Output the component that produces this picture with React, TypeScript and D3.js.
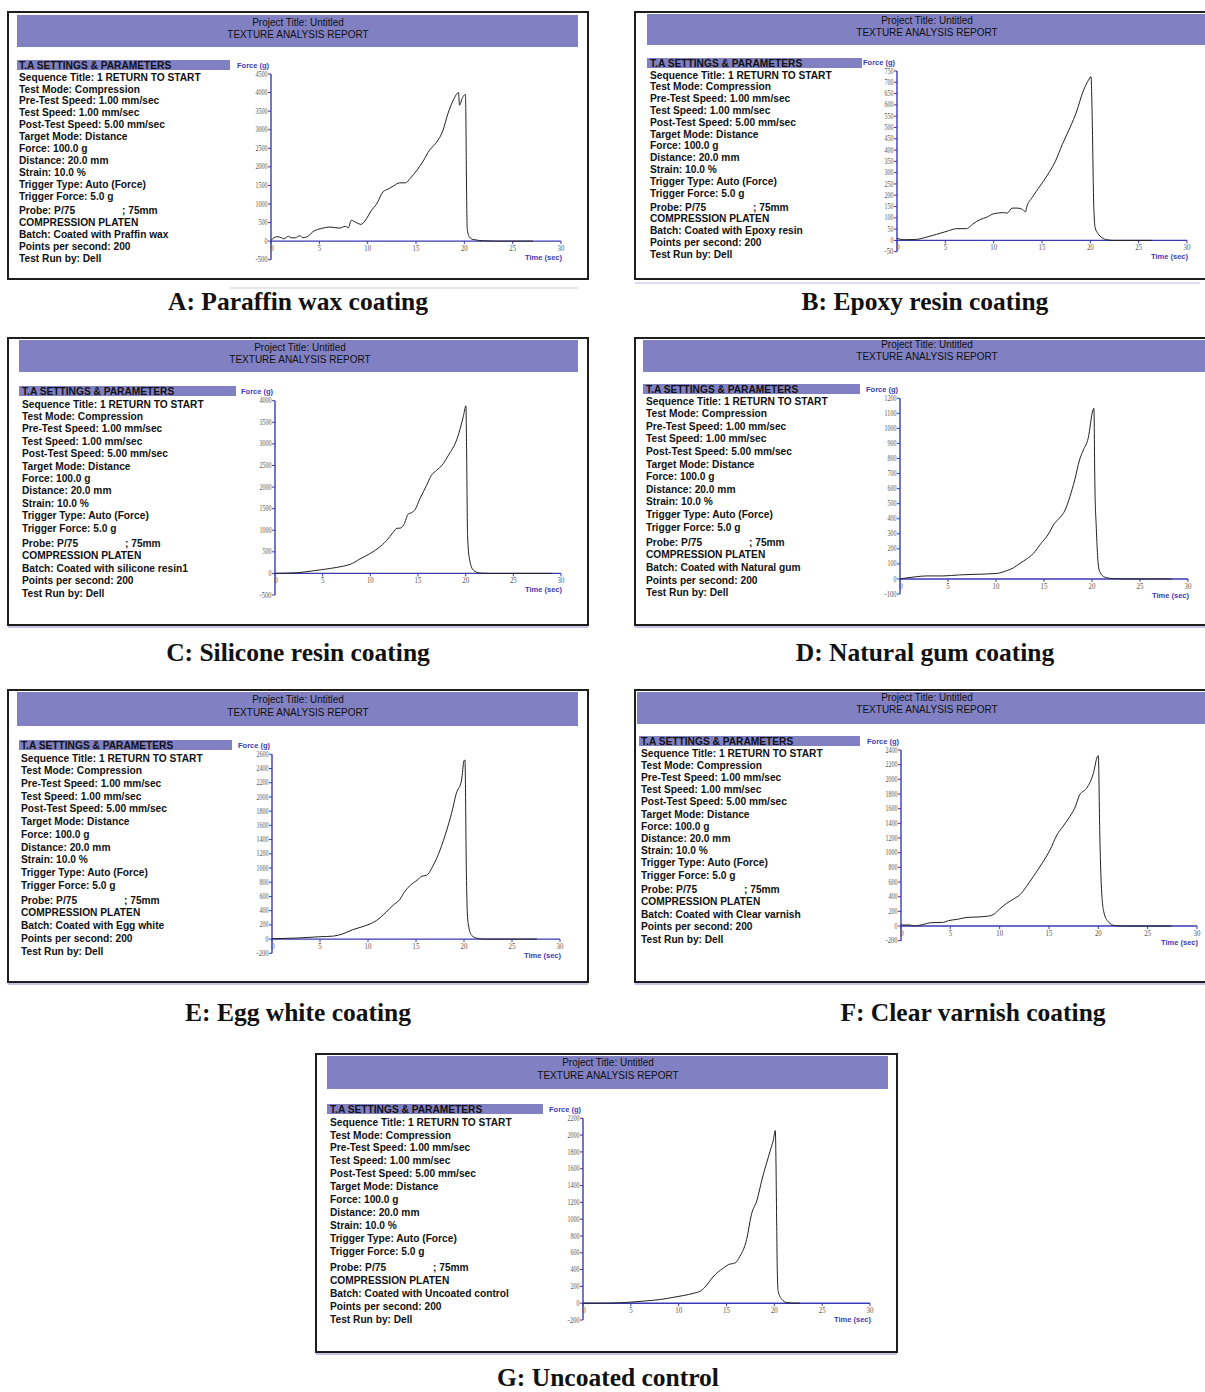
import React from 'react';
import * as d3 from 'd3';

// ---------- DATA ----------
const xTicks = [0, 5, 10, 15, 20, 25, 30];

const settingsLines = [
  'Sequence Title: 1 RETURN TO START',
  'Test Mode: Compression',
  'Pre-Test Speed: 1.00 mm/sec',
  'Test Speed: 1.00 mm/sec',
  'Post-Test Speed: 5.00 mm/sec',
  'Target Mode: Distance',
  'Force: 100.0 g',
  'Distance: 20.0 mm',
  'Strain: 10.0 %',
  'Trigger Type: Auto (Force)',
  'Trigger Force: 5.0 g',
];

const batchNames = [
  'Batch: Coated with Praffin wax',
  'Batch: Coated with Epoxy resin',
  'Batch: Coated with silicone resin1',
  'Batch: Coated with Natural gum',
  'Batch: Coated with Egg white',
  'Batch: Coated with Clear varnish',
  'Batch: Coated with Uncoated control',
];

const captions = [
  'A: Paraffin wax coating',
  'B: Epoxy resin coating',
  'C: Silicone resin coating',
  'D: Natural gum coating',
  'E: Egg white coating',
  'F: Clear varnish coating',
  'G: Uncoated control',
];

const yTicksA = [-500, 0, 500, 1000, 1500, 2000, 2500, 3000, 3500, 4000, 4500];
const yTicksB = [-50, 0, 50, 100, 150, 200, 250, 300, 350, 400, 450, 500, 550, 600, 650, 700, 750];
const yTicksC = [-500, 0, 500, 1000, 1500, 2000, 2500, 3000, 3500, 4000];
const yTicksD = [-100, 0, 100, 200, 300, 400, 500, 600, 700, 800, 900, 1000, 1100, 1200];
const yTicksE = [-200, 0, 200, 400, 600, 800, 1000, 1200, 1400, 1600, 1800, 2000, 2200, 2400, 2600];
const yTicksF = [-200, 0, 200, 400, 600, 800, 1000, 1200, 1400, 1600, 1800, 2000, 2200, 2400];
const yTicksG = [-200, 0, 200, 400, 600, 800, 1000, 1200, 1400, 1600, 1800, 2000, 2200];

// [time (sec), force (g)]
const paraffinWax: [number, number][] = [
  [0, 20], [0.6, 120], [1.1, 90], [1.3, 60], [1.8, 130], [2.1, 90], [2.5, 90], [3, 145], [3.3, 90],
  [3.7, 115], [4.5, 280], [5.2, 340], [6.1, 380], [7.1, 350], [7.7, 400], [8, 360], [8.3, 560],
  [8.9, 490], [9.3, 450], [9.7, 540], [10.4, 830], [10.9, 990], [11.6, 1330], [12.1, 1400],
  [12.7, 1490], [13.3, 1570], [13.9, 1570], [14.4, 1690], [15.1, 1910], [15.8, 2180], [16.4, 2450],
  [17.1, 2650], [17.8, 2990], [18.3, 3430], [18.9, 3820], [19.4, 4000], [19.5, 3660], [19.8, 3860],
  [20.1, 3950], [20.15, 3600], [20.2, 2200], [20.25, 970], [20.3, 340], [20.5, 120], [20.9, 45],
  [22, 10], [23.3, 0], [27.1, 0],
];
const epoxyResin: [number, number][] = [
  [0, 9], [0.7, 3], [1.9, 4], [3.1, 15], [4.1, 27], [5.2, 41], [6.2, 52], [7.2, 52], [7.4, 56],
  [7.8, 71], [8.6, 92], [9.3, 103], [10, 118], [11, 123], [11.4, 121], [11.9, 143], [12.4, 143],
  [12.9, 139], [13.3, 127], [13.4, 145], [13.97, 189], [14.8, 241], [15.5, 285], [16.4, 352],
  [17.1, 425], [17.9, 500], [18.6, 573], [19.2, 654], [19.8, 709], [20.07, 725], [20.2, 529],
  [20.35, 160], [20.5, 56], [20.8, 30], [21.2, 12], [21.7, 3], [22.4, 0], [26.4, 0],
];
const siliconeResin: [number, number][] = [
  [0, 0], [2.3, 15], [4, 60], [5.8, 115], [7.2, 170], [7.9, 210], [8.9, 333], [10, 465], [10.8, 580],
  [11.7, 760], [12.4, 953], [12.8, 1047], [13.1, 1047], [13.5, 1124], [14, 1380], [14.3, 1403],
  [14.7, 1480], [15.2, 1730], [15.9, 2040], [16.4, 2270], [16.96, 2390], [17.5, 2500], [18.2, 2740],
  [19.1, 3120], [19.75, 3630], [20.03, 3880], [20.1, 2810], [20.2, 876], [20.4, 333], [20.8, 78],
  [21.5, 8], [22.6, 0], [29.1, 0],
];
const naturalGum: [number, number][] = [
  [0, 0], [0.7, 7], [1.7, 15], [2.8, 20], [4.5, 20], [6.2, 27], [8, 31], [9.7, 35], [10.4, 40],
  [11.1, 55], [11.8, 73], [12.5, 104], [13.2, 133], [13.9, 170], [14.7, 237], [15.4, 292], [16.1, 370],
  [16.6, 403], [17.2, 458], [17.7, 547], [18.2, 657], [18.7, 790], [19.1, 857], [19.6, 934],
  [20.1, 1122], [20.2, 1133], [20.3, 624], [20.45, 336], [20.6, 137], [20.8, 49], [21.3, 13],
  [22.2, 2], [23.6, 0], [28.3, 0],
];
const eggWhite: [number, number][] = [
  [0, 5], [2.5, 14], [5, 33], [6.4, 42], [7.4, 75], [8.4, 132], [9.3, 169], [10, 202], [10.9, 263],
  [11.9, 381], [12.6, 475], [13.3, 555], [13.8, 663], [14.4, 757], [15.1, 827], [15.6, 884],
  [16.1, 898], [16.8, 1039], [17.5, 1251], [18.2, 1533], [18.7, 1768], [19.2, 2050], [19.75, 2238],
  [20.0, 2511], [20.1, 2520], [20.25, 921], [20.35, 357], [20.5, 169], [20.8, 52], [21.3, 14],
  [22, 0], [27.6, 0],
];
const clearVarnish: [number, number][] = [
  [0, 14], [0.9, 14], [1.3, 0], [2.3, 23], [3, 45], [4.3, 50], [4.8, 73], [5.7, 91], [6.7, 118],
  [7.7, 123], [8.9, 136], [9.4, 159], [10, 232], [10.7, 309], [11.4, 368], [12.1, 432], [12.7, 536],
  [13.4, 673], [14.3, 855], [15.1, 1036], [15.8, 1241], [16.4, 1355], [17.1, 1491], [17.6, 1605],
  [18.1, 1786], [18.8, 1877], [19.5, 2082], [19.9, 2309], [20.0, 2323], [20.15, 1241], [20.3, 559],
  [20.55, 195], [21, 59], [21.7, 5], [22.5, 0], [27.4, 0],
];
const uncoatedControl: [number, number][] = [
  [0, 0], [2.5, 0], [4.9, 12], [6.7, 28], [8.1, 44], [9.5, 71], [10.5, 91], [11.6, 119], [12.3, 146],
  [12.9, 210], [13.5, 301], [14.2, 380], [14.7, 419], [15.2, 459], [15.9, 479], [16.4, 558],
  [17.1, 756], [17.6, 1053], [18.2, 1231], [18.7, 1468], [19.6, 1824], [19.9, 1943], [20.1, 2054],
  [20.25, 914], [20.3, 439], [20.4, 142], [20.8, 44], [21.3, 8], [22.3, 0], [22.7, 0],
];

const seriesList = [paraffinWax, epoxyResin, siliconeResin, naturalGum, eggWhite, clearVarnish, uncoatedControl];
const yTickList = [yTicksA, yTicksB, yTicksC, yTicksD, yTicksE, yTicksF, yTicksG];

// ---------- LAYOUT ----------
type Layout = {
  box: [number, number, number, number];
  header: [number, number, number, number];
  titleX: number; titleY: [number, number];
  bar: [number, number, number];
  textX: number; firstY: number; step: number; probeY: number; probeStep: number;
  chart: { x0: number; x1: number; yTop: number; yBot: number };
  capX: number; capY: number;
  under: [number, number, number, string];
};

const layouts: Layout[] = [
  { box: [8, 12, 580, 267], header: [17, 15, 561, 32], titleX: 298, titleY: [22, 34], bar: [17, 60, 213],
    textX: 19, firstY: 77, step: 11.9, probeY: 210, probeStep: 12, chart: { x0: 271, x1: 561, yTop: 74, yBot: 259.7 },
    capX: 298, capY: 310, under: [230, 578, 288, '#d0d0d0'] },
  { box: [635, 12, 590, 267], header: [647, 14, 570, 31], titleX: 927, titleY: [20, 32], bar: [647, 58, 215],
    textX: 650, firstY: 75, step: 11.8, probeY: 207, probeStep: 11.8, chart: { x0: 897, x1: 1187, yTop: 71, yBot: 251.7 },
    capX: 925, capY: 310, under: [635, 1200, 283, '#b8b8e0'] },
  { box: [8, 338, 580, 287], header: [19, 340, 559, 32], titleX: 300, titleY: [347, 359], bar: [19, 386, 217],
    textX: 22, firstY: 404, step: 12.4, probeY: 543, probeStep: 12.5, chart: { x0: 275, x1: 561, yTop: 400.7, yBot: 595 },
    capX: 298, capY: 661, under: [8, 588, 627, '#8c8cc8'] },
  { box: [635, 338, 590, 287], header: [643, 340, 570, 32], titleX: 927, titleY: [344, 356], bar: [643, 384, 217],
    textX: 646, firstY: 401, step: 12.6, probeY: 542, probeStep: 12.7, chart: { x0: 900, x1: 1188, yTop: 398.3, yBot: 594 },
    capX: 925, capY: 661, under: [635, 1205, 627, '#8c8cc8'] },
  { box: [8, 690, 580, 292], header: [17, 692, 561, 34], titleX: 298, titleY: [699, 712], bar: [19, 740, 213],
    textX: 21, firstY: 758, step: 12.7, probeY: 900, probeStep: 12.75, chart: { x0: 272, x1: 560, yTop: 754.3, yBot: 953.3 },
    capX: 298, capY: 1021, under: [8, 588, 984, '#8c8cc8'] },
  { box: [635, 690, 590, 292], header: [637, 692, 570, 32], titleX: 927, titleY: [697, 709], bar: [639, 736, 221],
    textX: 641, firstY: 753, step: 12.2, probeY: 889, probeStep: 12.5, chart: { x0: 901, x1: 1197, yTop: 750, yBot: 940.7 },
    capX: 973, capY: 1021, under: [635, 1205, 984, '#8c8cc8'] },
  { box: [316, 1054, 581, 298], header: [327, 1056, 561, 33], titleX: 608, titleY: [1062, 1075], bar: [327, 1104, 216],
    textX: 330, firstY: 1122, step: 12.9, probeY: 1267, probeStep: 13, chart: { x0: 583, x1: 870, yTop: 1118.3, yBot: 1320 },
    capX: 608, capY: 1386, under: [316, 897, 1354, '#8c8cc8'] },
];

const LAV = '#8080c2';
const AX = '#3a3ab4';
const SANS = '"Liberation Sans", Arial, sans-serif';
const SERIF = '"Liberation Serif", "Times New Roman", serif';

function Panel({ idx }: { idx: number }) {
  const L = layouts[idx];
  const data = seriesList[idx];
  const ticks = yTickList[idx];
  const yMin = ticks[0];
  const yMax = ticks[ticks.length - 1];
  const x = d3.scaleLinear().domain([0, 30]).range([L.chart.x0, L.chart.x1]);
  const y = d3.scaleLinear().domain([yMin, yMax]).range([L.chart.yBot, L.chart.yTop]);
  const line = d3.line<[number, number]>().x(d => x(d[0])).y(d => y(d[1])).curve(d3.curveMonotoneX);
  const y0 = y(0);
  const probeLines = ['Probe: P/75', 'COMPRESSION PLATEN', batchNames[idx], 'Points per second: 200', 'Test Run by: Dell'];
  const fs = 10.2;
  const base = (c: number, size: number) => c + size * 0.36;
  return (
    <g>
      <rect x={L.box[0]} y={L.box[1]} width={L.box[2]} height={L.box[3]} fill="#fff" stroke="#1e1e1e" strokeWidth={2} />
      <line x1={L.under[0]} x2={L.under[1]} y1={L.under[2]} y2={L.under[2]} stroke={L.under[3]} strokeWidth={1.2} />
      <rect x={L.header[0]} y={L.header[1]} width={L.header[2]} height={L.header[3]} fill={LAV} />
      <text x={L.titleX} y={base(L.titleY[0], 10)} fontFamily={SANS} fontSize={10} textAnchor="middle" fill="#111">Project Title: Untitled</text>
      <text x={L.titleX} y={base(L.titleY[1], 10)} fontFamily={SANS} fontSize={10} textAnchor="middle" fill="#111">TEXTURE ANALYSIS REPORT</text>
      <rect x={L.bar[0]} y={L.bar[1]} width={L.bar[2]} height={10} fill={LAV} />
      <text x={L.textX} y={base(L.bar[1] + 5, fs)} fontFamily={SANS} fontSize={fs} fontWeight="bold" fill="#111">T.A SETTINGS &amp; PARAMETERS</text>
      {settingsLines.map((s, i) => (
        <text key={s} x={L.textX} y={base(L.firstY + i * L.step, fs)} fontFamily={SANS} fontSize={fs} fontWeight="bold" fill="#111">{s}</text>
      ))}
      {probeLines.map((s, i) => (
        <text key={s} x={L.textX} y={base(L.probeY + i * L.probeStep, fs)} fontFamily={SANS} fontSize={fs} fontWeight="bold" fill="#111">{s}</text>
      ))}
      <text x={L.textX + 103} y={base(L.probeY, fs)} fontFamily={SANS} fontSize={fs} fontWeight="bold" fill="#111">; 75mm</text>

      {/* axes */}
      <line x1={L.chart.x0} x2={L.chart.x0} y1={y(yMax)} y2={y(yMin)} stroke={AX} strokeWidth={1.4} />
      <line x1={L.chart.x0} x2={L.chart.x1} y1={y0} y2={y0} stroke={AX} strokeWidth={1.4} />
      {ticks.map(t => (
        <g key={'y' + t}>
          <line x1={L.chart.x0 - 3} x2={L.chart.x0} y1={y(t)} y2={y(t)} stroke={AX} strokeWidth={1} />
          <text x={L.chart.x0 - 3.5} y={y(t) + 2.6} fontFamily={SERIF} fontSize={7.5} textAnchor="end" fill="#555"
            textLength={String(t).length * 3} lengthAdjust="spacingAndGlyphs">{String(t)}</text>
        </g>
      ))}
      {xTicks.map(t => (
        <g key={'x' + t}>
          <line x1={x(t)} x2={x(t)} y1={y0} y2={y0 + 3} stroke={AX} strokeWidth={1} />
          <text x={x(t) + (t === 0 ? 1 : 0)} y={y0 + 10} fontFamily={SERIF} fontSize={8} textAnchor="middle" fill="#555"
            textLength={String(t).length * 3.4} lengthAdjust="spacingAndGlyphs">{String(t)}</text>
        </g>
      ))}
      <text x={L.chart.x0 - 34} y={L.chart.yTop - 9 + 2.6} fontFamily={SANS} fontSize={7.5} fontWeight="bold" fill={AX}>Force (g)</text>
      <text x={L.chart.x1 + 1} y={y0 + 16 + 2.6} fontFamily={SANS} fontSize={7.5} fontWeight="bold" fill={AX} textAnchor="end">Time (sec)</text>
      <path d={line(data) || ''} fill="none" stroke="#222" strokeWidth={1} />

      <text x={L.capX} y={L.capY} fontFamily={SERIF} fontSize={25.5} fontWeight="bold" textAnchor="middle" fill="#111">{captions[idx]}</text>
    </g>
  );
}

export default function App() {
  return (
    <svg width={1205} height={1392} style={{ position: 'absolute', left: 0, top: 0, background: '#fff' }}>
      <rect x={0} y={0} width={1205} height={1392} fill="#fff" />
      {layouts.map((_, i) => <Panel key={i} idx={i} />)}
    </svg>
  );
}
